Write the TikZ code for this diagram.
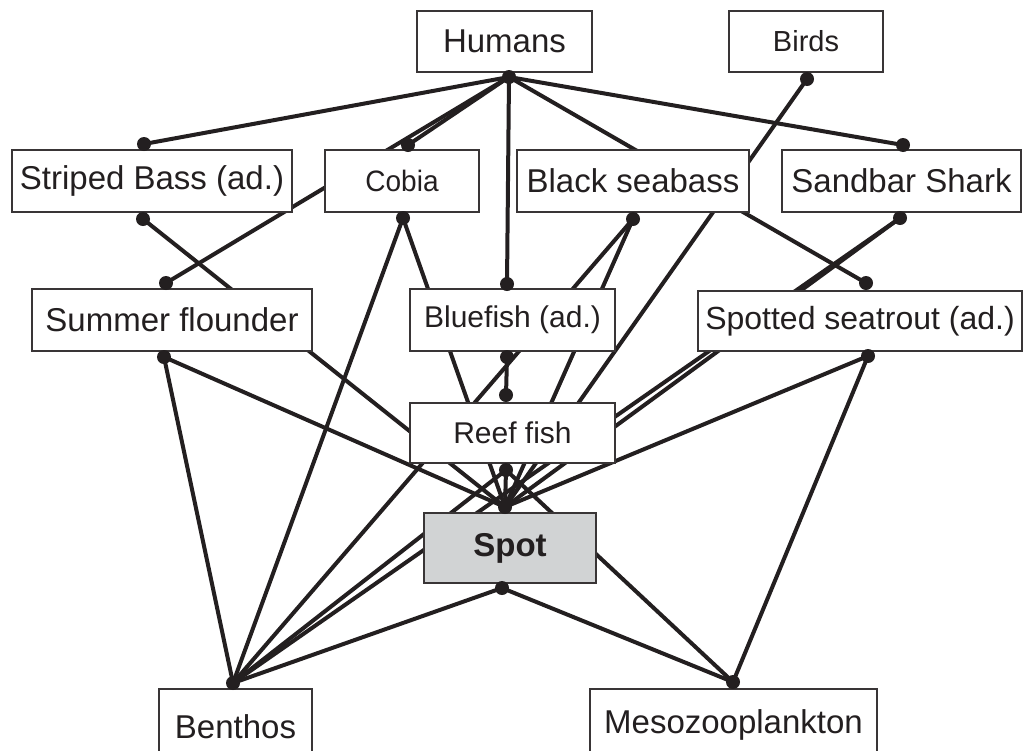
\documentclass[tikz,border=0pt]{standalone}
\usepackage{fontspec}
\setmainfont{Liberation Sans}
\usetikzlibrary{backgrounds}
\definecolor{spotgray}{HTML}{D1D3D4}
\definecolor{ink}{HTML}{231F20}
\begin{document}
\begin{tikzpicture}[x=1pt,y=-1pt,
  box/.style={draw=ink!90, line width=1.4pt, fill=white, inner sep=0pt, minimum height=61pt, text=ink},
  link/.style={line width=4pt, draw=ink, line cap=round},
  fs/.style={font=\fontsize{#1}{#1}\selectfont}]
\useasboundingbox (0,0) rectangle (1024,750);
% boxes
\node[box, minimum width=175pt, fs=33] (humans) at (504.5,41.5) {Humans};
\node[box, minimum width=154pt, fs=29] (birds) at (806,41.5) {Birds};
\node[box, minimum width=280pt, minimum height=62pt, fs=33] (sbass) at (152,181) {Striped Bass (ad.)};
\node[box, minimum width=154pt, minimum height=62pt, fs=29.5] (cobia) at (402,181) {\scalebox{0.95}[1]{Cobia}};
\node[box, minimum width=232pt, minimum height=62pt, fs=33] (bsb) at (633,181) {Black seabass};
\node[box, minimum width=239pt, minimum height=62pt, fs=33] (shark) at (901.5,181) {Sandbar Shark};
\node[box, minimum width=280pt, minimum height=62pt, fs=33] (sfl) at (172,320) {Summer flounder};
\node[box, minimum width=205pt, minimum height=62pt, fs=30] (blue) at (512.5,320) {Bluefish (ad.)};
\node[box, minimum width=324pt, minimum height=60pt, fs=32] (sst) at (860,321) {Spotted seatrout (ad.)};
\node[box, minimum width=205pt, minimum height=60pt, fs=30] (reef) at (512.5,433) {Reef fish};
\node[box, fill=spotgray, minimum width=172pt, minimum height=70pt, fs=33] (spot) at (510,548) {\bfseries Spot};
\node[box, minimum width=153pt, minimum height=76pt, fs=33] (benthos) at (235.5,727) {Benthos};
\node[box, minimum width=287pt, minimum height=72pt, fs=33] (meso) at (733.5,725) {Mesozooplankton};
% attachment points
\coordinate (humB) at (509,77);
\coordinate (birB) at (807,79);
\coordinate (sbT) at (144,144);
\coordinate (sbB) at (143,219);
\coordinate (cobT) at (408,145);
\coordinate (cobB) at (403,218);
\coordinate (bsbB) at (633,219);
\coordinate (shaT) at (903,145);
\coordinate (shaB) at (900,218);
\coordinate (sfT) at (166,283);
\coordinate (sfB) at (164,357);
\coordinate (bluT) at (507,284);
\coordinate (bluB) at (507,357);
\coordinate (sstT) at (866,283);
\coordinate (sstB) at (868,356);
\coordinate (refT) at (506,395);
\coordinate (refB) at (506,470);
\coordinate (spoT) at (505,507);
\coordinate (spoB) at (502,588);
\coordinate (benT) at (233,683);
\coordinate (mesT) at (733,682);
% links
\begin{scope}[on background layer]
\draw[link] (humB) -- (sbT);
\draw[link] (humB) -- (cobT);
\draw[link] (humB) -- (sfT);
\draw[link] (humB) -- (bluT);
\draw[link] (humB) -- (sstT);
\draw[link] (humB) -- (shaT);
\draw[link] (birB) -- (spoT);
\draw[link] (sbB) -- (spoT);
\draw[link] (cobB) -- (spoT);
\draw[link] (cobB) -- (benT);
\draw[link] (bsbB) -- (spoT);
\draw[link] (bsbB) -- (benT);
\draw[link] (shaB) -- (spoT);
\draw[link] (shaB) -- (benT);
\draw[link] (sfB) -- (spoT);
\draw[link] (sfB) -- (benT);
\draw[link] (bluB) -- (refT);
\draw[link] (sstB) -- (spoT);
\draw[link] (sstB) -- (mesT);
\draw[link] (refB) -- (spoT);
\draw[link] (refB) -- (benT);
\draw[link] (refB) -- (mesT);
\draw[link] (spoB) -- (benT);
\draw[link] (spoB) -- (mesT);
\end{scope}
% dots
\foreach \c in {humB,birB,sbT,sbB,cobT,cobB,bsbB,shaT,shaB,sfT,sfB,bluT,bluB,sstT,sstB,refT,refB,spoT,spoB,benT,mesT}
  \fill[ink] (\c) circle (7pt);
\end{tikzpicture}
\end{document}
